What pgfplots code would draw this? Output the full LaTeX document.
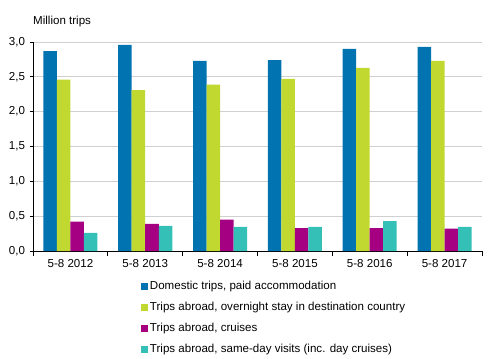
\documentclass[border=0pt]{standalone}
\usepackage{pgfplots}
\pgfplotsset{compat=1.18}
\usepackage{fontspec}
\setmainfont{Liberation Sans}
\definecolor{cblue}{RGB}{0,115,176}
\definecolor{cgreen}{RGB}{192,216,47}
\definecolor{cpurple}{RGB}{165,0,130}
\definecolor{cteal}{RGB}{52,192,182}
\definecolor{cgrid}{RGB}{208,208,208}
\begin{document}
\begin{tikzpicture}
\begin{axis}[
  at={(0,0)}, anchor=south west,
  scale only axis, width=449bp, height=209bp,
  ybar=0pt, bar width=13.5bp,
  xmin=-0.5, xmax=5.5, ymin=0, ymax=3,
  xtick={0,...,5},
  xticklabels={5-8 2012,5-8 2013,5-8 2014,5-8 2015,5-8 2016,5-8 2017},
  minor xtick={-0.5,0.5,...,5.5},
  major x tick style={draw=none},
  minor x tick style={black, line width=0.8pt},
  minor tick length=5bp,
  ytick={0,0.5,...,3},
  y tick style={black, line width=0.8pt},
  major tick length=3bp,
  tick align=outside,
  axis x line*=bottom, axis y line*=left,
  axis line style={black, line width=0.9pt, -},
  ymajorgrids, grid style={cgrid, line width=0.8pt},
  y tick label style={/pgf/number format/use comma, /pgf/number format/fixed, /pgf/number format/fixed zerofill, /pgf/number format/precision=1},
  /pgf/number format/assume math mode=true,
  tick label style={font=\fontsize{11.6}{13}\selectfont},
  xticklabel style={yshift=-2bp},
  yticklabel style={xshift=-1.5bp},
  legend style={at={(0.24,-0.135)}, anchor=north west, draw=none, fill=none,
    font=\fontsize{11.6}{13}\selectfont, row sep=7.2bp, inner sep=0pt,
    /tikz/every even column/.append style={column sep=2bp}},
  legend cell align=left,
  legend image code/.code={\fill[#1] (0bp,-3.5bp) rectangle (7bp,3.5bp);},
  clip=false,
]
\addplot[fill=cblue, draw=none] coordinates {(0,2.87) (1,2.96) (2,2.73) (3,2.74) (4,2.90) (5,2.93)};
\addplot[fill=cgreen, draw=none] coordinates {(0,2.46) (1,2.31) (2,2.39) (3,2.47) (4,2.63) (5,2.73)};
\addplot[fill=cpurple, draw=none] coordinates {(0,0.42) (1,0.39) (2,0.45) (3,0.33) (4,0.33) (5,0.32)};
\addplot[fill=cteal, draw=none] coordinates {(0,0.26) (1,0.36) (2,0.345) (3,0.345) (4,0.43) (5,0.345)};
\legend{{Domestic trips, paid accommodation},{Trips abroad, overnight stay in destination country},{Trips abroad, cruises},{Trips abroad, same-day visits (inc. day cruises)}}
\end{axis}
\node[anchor=west, inner sep=0pt, font=\fontsize{11.6}{13}\selectfont] at (0bp,229bp) {Million trips};
\pgfresetboundingbox
\path[use as bounding box] (-33bp,-108bp) rectangle (458bp,251bp);
\end{tikzpicture}
\end{document}
